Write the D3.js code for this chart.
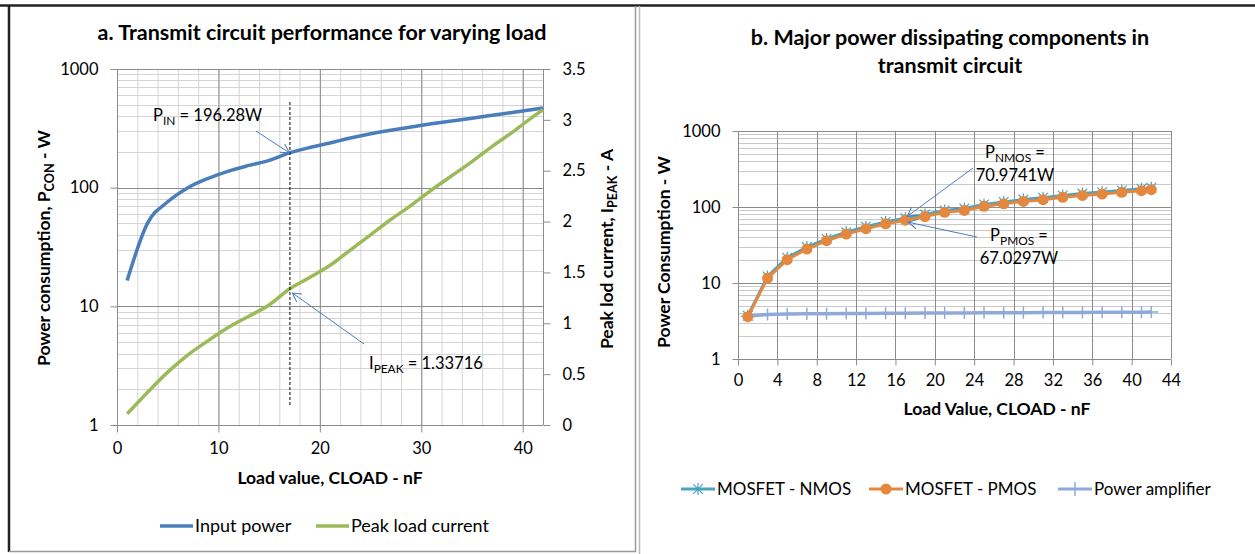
<!DOCTYPE html>
<html>
<head>
<meta charset="utf-8">
<script src="https://cdn.jsdelivr.net/npm/d3@7/dist/d3.min.js"></script>
<style>
body { margin: 0; background: #fff; }
svg { display: block; font-family: Lato, 'Open Sans', sans-serif; }
</style>
</head>
<body>
<div id="chart"></div>
<script>
// chart a: transmit circuit vs load
var loadA = [1, 3, 5, 7, 9, 11, 13, 15, 17, 19, 21, 23, 25, 27, 29, 31, 33, 35, 37, 39, 41, 42]
var inputPower = [16.5, 50, 76, 100, 120, 138, 154, 170, 196.28, 218, 238, 262, 285, 305, 325, 345, 365, 385, 408, 430, 455, 470]
var peakCurrent = [0.11, 0.32, 0.52, 0.69, 0.83, 0.96, 1.07, 1.18, 1.33716, 1.45, 1.57, 1.72, 1.87, 2.02, 2.16, 2.31, 2.45, 2.59, 2.74, 2.88, 3.03, 3.10]
var xTicksA = [0, 10, 20, 30, 40]
var yTicksA = [1, 10, 100, 1000]
var yTicksAR = [0, 0.5, 1, 1.5, 2, 2.5, 3, 3.5]

// chart b: major power dissipating components
var loadB = [1, 3, 5, 7, 9, 11, 13, 15, 17, 19, 21, 23, 25, 27, 29, 31, 33, 35, 37, 39, 41, 42]
var nmos = [3.7, 12.2, 21.5, 29.7, 38, 46.5, 55, 63.5, 70.9741, 79.5, 90, 95.5, 108, 116.5, 125.5, 132.5, 142, 150.5, 157, 165, 174, 179]
var pmos = [3.6, 11.6, 20.3, 28, 36, 44, 51.8, 60, 67.0297, 75, 85, 90, 102, 110, 118.5, 125, 134, 142, 148, 156, 164, 169]
var amp = [3.65, 3.85, 3.9, 3.93, 3.95, 3.97, 3.98, 4.0, 4.01, 4.02, 4.03, 4.04, 4.05, 4.06, 4.07, 4.08, 4.09, 4.1, 4.11, 4.12, 4.13, 4.14]
var xTicksB = [0, 4, 8, 12, 16, 20, 24, 28, 32, 36, 40, 44]
var yTicksB = [1, 10, 100, 1000]

var blue = '#4a7ebb', green = '#9bbb59', teal = '#4aa3c0', orange = '#e5883f', lilac = '#90aad8'
var minorCol = '#d4d4d4', majorCol = '#8c8c8c'

var svg = d3.select('#chart').append('svg')
            .attr('width', 1255)
            .attr('height', 554)

var defs = svg.append('defs')
defs.append('marker')
    .attr('id', 'arr')
    .attr('viewBox', '0 0 10 10')
    .attr('refX', 9).attr('refY', 5)
    .attr('markerWidth', 10).attr('markerHeight', 10)
    .attr('markerUnits', 'userSpaceOnUse')
    .attr('orient', 'auto')
    .append('path')
    .attr('d', 'M0,0 L9,5 L0,10')
    .attr('fill', 'none')
    .attr('stroke', blue)
    .attr('stroke-width', 1)

// panel frames
svg.append('line').attr('x1', 0).attr('x2', 1255).attr('y1', 5.5).attr('y2', 5.5)
   .attr('stroke', '#222').attr('stroke-width', 2.5)
svg.append('line').attr('x1', 9).attr('x2', 9).attr('y1', 5).attr('y2', 552)
   .attr('stroke', '#222').attr('stroke-width', 2.5)
svg.append('line').attr('x1', 635.5).attr('x2', 635.5).attr('y1', 6).attr('y2', 552)
   .attr('stroke', '#999').attr('stroke-width', 1.5)
svg.append('line').attr('x1', 9).attr('x2', 636).attr('y1', 551.5).attr('y2', 551.5)
   .attr('stroke', '#999').attr('stroke-width', 1.5)
svg.append('line').attr('x1', 639.5).attr('x2', 639.5).attr('y1', 6).attr('y2', 554)
   .attr('stroke', '#bbb').attr('stroke-width', 1.5)

function logMinor(max){
  var v = []
  for (var d = 1; d < max; d *= 10)
    for (var k = 2; k < 10; k++) v.push(d * k)
  return v
}

function subText(sel, parts){
  // parts: [text, sub, text]
  sel.append('tspan').text(parts[0])
  sel.append('tspan').attr('dy', 4).attr('font-size', '0.72em').text(parts[1])
  sel.append('tspan').attr('dy', -4).text(parts[2])
}

/* ---------------- chart a ---------------- */
var xA = d3.scaleLinear().domain([0, 42]).range([117, 543])
var yA = d3.scaleLog().domain([1, 1000]).range([425, 69])
var yAR = d3.scaleLinear().domain([0, 3.5]).range([425, 69])

var ga = svg.append('g')

// minor grid
ga.selectAll('.vminA').data(d3.range(2, 43, 2)).enter().append('line')
  .attr('x1', d => xA(d) + 0.5).attr('x2', d => xA(d) + 0.5)
  .attr('y1', 69).attr('y2', 425)
  .attr('stroke', minorCol)
ga.selectAll('.hminA').data(logMinor(1000)).enter().append('line')
  .attr('x1', 117).attr('x2', 543)
  .attr('y1', d => Math.round(yA(d)) + 0.5).attr('y2', d => Math.round(yA(d)) + 0.5)
  .attr('stroke', minorCol)
// major grid
ga.selectAll('.vmajA').data([10, 20, 30, 40]).enter().append('line')
  .attr('x1', d => xA(d) + 0.5).attr('x2', d => xA(d) + 0.5)
  .attr('y1', 69).attr('y2', 425)
  .attr('stroke', majorCol)
ga.selectAll('.hmajA').data([10, 100, 1000]).enter().append('line')
  .attr('x1', 117).attr('x2', 543)
  .attr('y1', d => Math.round(yA(d)) + 0.5).attr('y2', d => Math.round(yA(d)) + 0.5)
  .attr('stroke', majorCol)

// axes
var axL = ga.append('g').attr('transform', 'translate(117.5,0)')
  .call(d3.axisLeft(yA).tickValues(yTicksA).tickFormat(d3.format('d')).tickSize(7).tickPadding(12))
var axR = ga.append('g').attr('transform', 'translate(543.5,0)')
  .call(d3.axisRight(yAR).tickValues(yTicksAR).tickFormat(d => d).tickSize(7).tickPadding(12))
var axB = ga.append('g').attr('transform', 'translate(0,425.5)')
  .call(d3.axisBottom(xA).tickValues(xTicksA).tickSize(7).tickPadding(10))
ga.selectAll('.domain').attr('stroke', majorCol)
ga.selectAll('.tick line').attr('stroke', majorCol)
ga.selectAll('.tick text').attr('font-size', 16.5).attr('fill', '#000').attr('font-family', 'Lato')
axB.select('.domain').attr('d', 'M117,0H543')
axL.select('.domain').attr('d', 'M0,69V425')
axR.select('.domain').attr('d', 'M0,69V425')

// series
var lineA = d3.line().curve(d3.curveMonotoneX)
ga.append('path')
  .datum(loadA.map((d, i) => [xA(d), yA(inputPower[i])]))
  .attr('d', lineA).attr('fill', 'none')
  .attr('stroke', blue).attr('stroke-width', 3.5).attr('stroke-linejoin', 'round')
ga.append('path')
  .datum(loadA.map((d, i) => [xA(d), yAR(peakCurrent[i])]))
  .attr('d', lineA).attr('fill', 'none')
  .attr('stroke', green).attr('stroke-width', 3.5).attr('stroke-linejoin', 'round')

// marker line at 17 nF
ga.append('line')
  .attr('x1', xA(17) + 0.5).attr('x2', xA(17) + 0.5).attr('y1', 102).attr('y2', 406)
  .attr('stroke', '#000').attr('stroke-width', 1).attr('stroke-dasharray', '3,2')

subText(ga.append('text').attr('x', 153).attr('y', 121).attr('font-size', 16.5), ['P', 'IN', ' = 196.28W'])
ga.append('line').attr('x1', 256).attr('y1', 131).attr('x2', xA(17)).attr('y2', yA(196.28))
  .attr('stroke', blue).attr('stroke-width', 1).attr('marker-end', 'url(#arr)')

subText(ga.append('text').attr('x', 369).attr('y', 369).attr('font-size', 16.5), ['I', 'PEAK', ' = 1.33716'])
ga.append('line').attr('x1', 364).attr('y1', 344).attr('x2', xA(17) + 3).attr('y2', yAR(1.33716) + 4)
  .attr('stroke', blue).attr('stroke-width', 1).attr('marker-end', 'url(#arr)')

// titles
ga.append('text').attr('x', 322).attr('y', 40).attr('text-anchor', 'middle')
  .attr('font-size', 21.5).attr('font-weight', 'bold')
  .text('a. Transmit circuit performance for varying load')
ga.append('text').attr('x', 330).attr('y', 484).attr('text-anchor', 'middle')
  .attr('font-size', 17.5).attr('font-weight', 'bold')
  .text('Load value, CLOAD - nF')
subText(ga.append('text').attr('transform', 'translate(50,248) rotate(-90)')
  .attr('text-anchor', 'middle').attr('font-size', 17.5).attr('font-weight', 'bold'),
  ['Power consumption, P', 'CON', ' - W'])
subText(ga.append('text').attr('transform', 'translate(613,249) rotate(-90)')
  .attr('text-anchor', 'middle').attr('font-size', 17.5).attr('font-weight', 'bold'),
  ['Peak lod current, I', 'PEAK', ' - A'])

// legend a
var legA = [['Input power', blue, 160], ['Peak load current', green, 316]]
legA.forEach(function(l){
  ga.append('line').attr('x1', l[2]).attr('x2', l[2] + 33).attr('y1', 526).attr('y2', 526)
    .attr('stroke', l[1]).attr('stroke-width', 3.5)
  ga.append('text').attr('x', l[2] + 35).attr('y', 532).attr('font-size', 18).text(l[0])
})

/* ---------------- chart b ---------------- */
var xB = d3.scaleLinear().domain([0, 44]).range([738, 1171])
var yB = d3.scaleLog().domain([1, 1000]).range([359, 131])
var gb = svg.append('g')

gb.selectAll('.hminB').data(logMinor(1000)).enter().append('line')
  .attr('x1', 738).attr('x2', 1171)
  .attr('y1', d => Math.round(yB(d)) + 0.5).attr('y2', d => Math.round(yB(d)) + 0.5)
  .attr('stroke', '#c9c9c9')
gb.selectAll('.vmajB').data(xTicksB.slice(1)).enter().append('line')
  .attr('x1', d => Math.round(xB(d)) + 0.5).attr('x2', d => Math.round(xB(d)) + 0.5)
  .attr('y1', 131).attr('y2', 359)
  .attr('stroke', majorCol)
gb.selectAll('.hmajB').data([10, 100, 1000]).enter().append('line')
  .attr('x1', 738).attr('x2', 1171)
  .attr('y1', d => Math.round(yB(d)) + 0.5).attr('y2', d => Math.round(yB(d)) + 0.5)
  .attr('stroke', majorCol)

var bxL = gb.append('g').attr('transform', 'translate(738.5,0)')
  .call(d3.axisLeft(yB).tickValues(yTicksB).tickFormat(d3.format('d')).tickSize(6).tickPadding(12))
var bxB = gb.append('g').attr('transform', 'translate(0,359.5)')
  .call(d3.axisBottom(xB).tickValues(xTicksB).tickSize(6).tickPadding(9))
gb.selectAll('.domain').attr('stroke', majorCol)
gb.selectAll('.tick line').attr('stroke', majorCol)
gb.selectAll('.tick text').attr('font-size', 16.5).attr('fill', '#000').attr('font-family', 'Lato')
bxB.select('.domain').attr('d', 'M738,0H1171')
bxL.select('.domain').attr('d', 'M0,131V359')

var lineB = d3.line()

// power amplifier
gb.append('path')
  .datum(loadB.map((d, i) => [xB(d), yB(amp[i])]))
  .attr('d', lineB).attr('fill', 'none').attr('stroke', lilac).attr('stroke-width', 3.5)
gb.selectAll('.ampM').data(loadB).enter().append('path')
  .attr('d', (d, i) => { var x = xB(d), y = yB(amp[i]); return 'M' + (x - 7) + ',' + y + 'H' + (x + 7) + 'M' + x + ',' + (y - 6) + 'V' + (y + 6) })
  .attr('stroke', lilac).attr('stroke-width', 1.5).attr('fill', 'none')

function star(x, y, r){
  var a = r * 0.8
  return 'M' + x + ',' + (y - r) + 'V' + (y + r) +
         'M' + (x - a) + ',' + (y - a) + 'L' + (x + a) + ',' + (y + a) +
         'M' + (x - a) + ',' + (y + a) + 'L' + (x + a) + ',' + (y - a)
}

// nmos
gb.append('path')
  .datum(loadB.map((d, i) => [xB(d), yB(nmos[i])]))
  .attr('d', lineB).attr('fill', 'none').attr('stroke', teal).attr('stroke-width', 3)
gb.selectAll('.nM').data(loadB).enter().append('path')
  .attr('d', (d, i) => star(xB(d), yB(nmos[i]), 6))
  .attr('stroke', teal).attr('stroke-width', 1.2).attr('fill', 'none')

// pmos
gb.append('path')
  .datum(loadB.map((d, i) => [xB(d), yB(pmos[i])]))
  .attr('d', lineB).attr('fill', 'none').attr('stroke', orange).attr('stroke-width', 3)
gb.selectAll('.pM').data(loadB).enter().append('circle')
  .attr('cx', d => xB(d)).attr('cy', (d, i) => yB(pmos[i])).attr('r', 5.5)
  .attr('fill', orange)

// annotations
subText(gb.append('text').attr('x', 1015).attr('y', 158).attr('text-anchor', 'middle').attr('font-size', 16.5),
  ['P', 'NMOS', ' ='])
gb.append('text').attr('x', 1015).attr('y', 181).attr('text-anchor', 'middle').attr('font-size', 16.5).text('70.9741W')
gb.append('line').attr('x1', 973).attr('y1', 168).attr('x2', xB(17) + 2).attr('y2', yB(70.9741) - 2)
  .attr('stroke', blue).attr('stroke-width', 1).attr('marker-end', 'url(#arr)')

subText(gb.append('text').attr('x', 1019).attr('y', 241).attr('text-anchor', 'middle').attr('font-size', 16.5),
  ['P', 'PMOS', ' ='])
gb.append('text').attr('x', 1019).attr('y', 264).attr('text-anchor', 'middle').attr('font-size', 16.5).text('67.0297W')
gb.append('line').attr('x1', 977).attr('y1', 237).attr('x2', xB(17) + 3).attr('y2', yB(67.0297) + 2)
  .attr('stroke', blue).attr('stroke-width', 1).attr('marker-end', 'url(#arr)')

// titles
gb.append('text').attr('x', 950).attr('y', 45).attr('text-anchor', 'middle')
  .attr('font-size', 21.5).attr('font-weight', 'bold')
  .text('b. Major power dissipating components in')
gb.append('text').attr('x', 950).attr('y', 73).attr('text-anchor', 'middle')
  .attr('font-size', 21.5).attr('font-weight', 'bold')
  .text('transmit circuit')
gb.append('text').attr('x', 997).attr('y', 415).attr('text-anchor', 'middle')
  .attr('font-size', 17.5).attr('font-weight', 'bold')
  .text('Load Value, CLOAD - nF')
gb.append('text').attr('transform', 'translate(670,252) rotate(-90)')
  .attr('text-anchor', 'middle').attr('font-size', 17.5).attr('font-weight', 'bold')
  .text('Power Consumption - W')

// legend b
var legB = [['MOSFET - NMOS', teal, 681, 'star'], ['MOSFET - PMOS', orange, 869, 'dot'], ['Power amplifier', lilac, 1058, 'plus']]
legB.forEach(function(l){
  var cx = l[2] + 17
  gb.append('line').attr('x1', l[2]).attr('x2', l[2] + 34).attr('y1', 489).attr('y2', 489)
    .attr('stroke', l[1]).attr('stroke-width', 3)
  if (l[3] == 'star')
    gb.append('path').attr('d', star(cx, 489, 6)).attr('stroke', l[1]).attr('stroke-width', 1.2)
  else if (l[3] == 'dot')
    gb.append('circle').attr('cx', cx).attr('cy', 489).attr('r', 5.5).attr('fill', l[1])
  else
    gb.append('path').attr('d', 'M' + cx + ',482V496').attr('stroke', l[1]).attr('stroke-width', 1.5)
  gb.append('text').attr('x', l[2] + 36).attr('y', 495).attr('font-size', 17).text(l[0])
})
</script>
</body>
</html>
